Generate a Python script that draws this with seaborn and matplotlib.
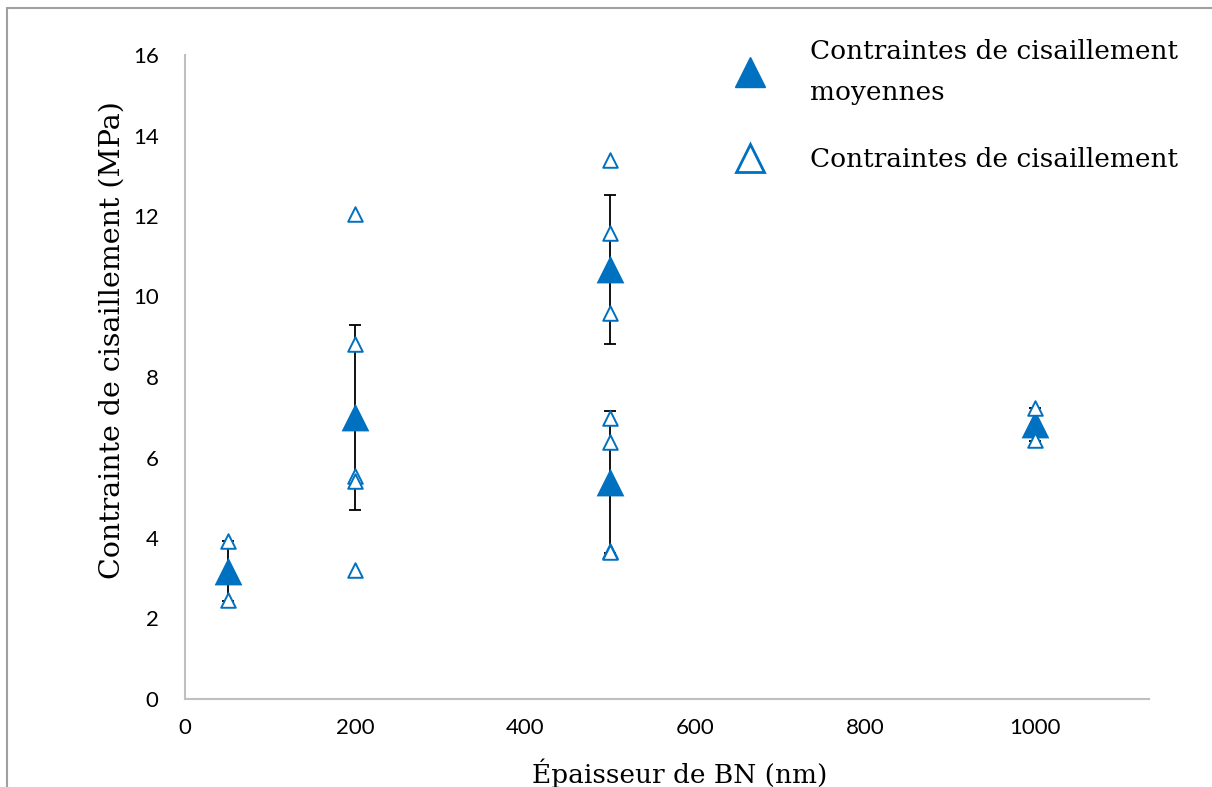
import matplotlib
matplotlib.use("Agg")
import matplotlib.pyplot as plt
import seaborn as sns
import pandas as pd
from matplotlib.lines import Line2D

# ---- data ----
mean_x = [50, 200, 500, 500, 1000]
mean_y = [3.18, 7.00, 10.68, 5.39, 6.82]
mean_err = [0.75, 2.30, 1.85, 1.77, 0.42]

pts_x = [50, 50,
         200, 200, 200, 200, 200,
         500, 500, 500,
         500, 500, 500, 500,
         1000, 1000]
pts_y = [3.93, 2.45,
         12.05, 8.82, 5.54, 5.42, 3.20,
         13.39, 11.58, 9.59,
         6.98, 6.39, 3.68, 3.65,
         7.23, 6.43]

x_ticks = [0, 200, 400, 600, 800, 1000]
y_ticks = [0, 2, 4, 6, 8, 10, 12, 14, 16]

label_mean = "Contraintes de cisaillement\nmoyennes"
label_pts = "Contraintes de cisaillement"
xlabel = "Épaisseur de BN (nm)"
ylabel = "Contrainte de cisaillement (MPa)"

BLUE = "#0070C0"
GRID = "#BFBFBF"
SERIF = ["DejaVu Serif"]
SANS = ["Lato", "DejaVu Sans"]

sns.set_style("white")
plt.rcParams["font.family"] = SANS
plt.rcParams["text.color"] = "black"
plt.rcParams["axes.labelcolor"] = "black"

fig = plt.figure(figsize=(12.12, 7.87), dpi=100)
ax = fig.add_axes([185/1212, 1-699/787, (1149-185)/1212, (699-55)/787])

df_mean = pd.DataFrame({"x": mean_x, "y": mean_y})
df_pts = pd.DataFrame({"x": pts_x, "y": pts_y})

ax.errorbar(mean_x, mean_y, yerr=mean_err, fmt="none", ecolor="black",
            elinewidth=1.3, capsize=4.5, capthick=1.3, zorder=1)
sns.scatterplot(data=df_mean, x="x", y="y", marker="^", s=400, color=BLUE,
                edgecolor=BLUE, linewidth=0, ax=ax, zorder=2, legend=False)
sns.scatterplot(data=df_pts, x="x", y="y", marker="^", s=110, facecolor="white",
                edgecolor=BLUE, linewidth=1.4, ax=ax, zorder=3, legend=False)

ax.set_xlim(0, 1134)
ax.set_ylim(0, 16)
ax.set_xticks(x_ticks)
ax.set_yticks(y_ticks)
ax.set_xticklabels([str(t) for t in x_ticks])
ax.set_yticklabels([str(t) for t in y_ticks])
ax.tick_params(axis="both", length=0, labelsize=16, colors="black")
ax.tick_params(axis="y", pad=19)
ax.tick_params(axis="x", pad=14)

for s in ["top", "right"]:
    ax.spines[s].set_visible(False)
for s in ["left", "bottom"]:
    ax.spines[s].set_color(GRID)
    ax.spines[s].set_linewidth(1.5)

ax.set_xlabel(xlabel, fontsize=19, family=SERIF, color="black")
ax.set_ylabel(ylabel, fontsize=20.5, family=SERIF, color="black")
ax.xaxis.set_label_coords((680-185)/964, (699-758)/644)
ax.yaxis.set_label_coords((126-185)/964, (699-340)/644)

handles = [
    Line2D([], [], linestyle="none", marker="^", markersize=22,
           markerfacecolor=BLUE, markeredgecolor=BLUE),
    Line2D([], [], linestyle="none", marker="^", markersize=20,
           markerfacecolor="white", markeredgecolor=BLUE, markeredgewidth=2),
]
leg = fig.legend(handles, [label_mean, label_pts], loc="upper left",
                 bbox_to_anchor=(713/1212, 1-28/787), frameon=False,
                 prop={"family": SERIF, "size": 19}, handletextpad=1.27,
                 labelspacing=1.62, borderaxespad=0, labelcolor="black")
for t in leg.get_texts():
    t.set_linespacing(1.8)

# figure frame (top and left edges visible)
fig.add_artist(Line2D([7/1212, 1], [1-8/787, 1-8/787], transform=fig.transFigure,
                      color="#A0A0A0", linewidth=1.5))
fig.add_artist(Line2D([7/1212, 7/1212], [0, 1-8/787], transform=fig.transFigure,
                      color="#A0A0A0", linewidth=1.5))

fig.savefig("out.png", dpi=100)
